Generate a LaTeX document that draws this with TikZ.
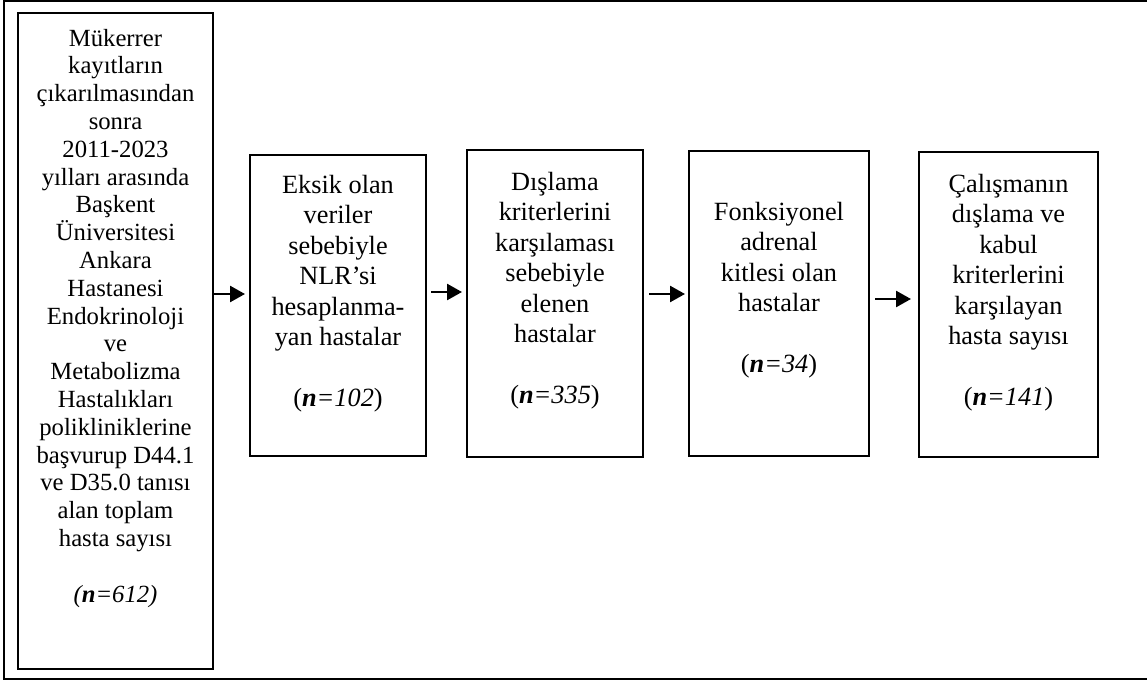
\documentclass[tikz,border=0pt]{standalone}
\usepackage{fontspec}
\setmainfont{Liberation Serif}
\usetikzlibrary{arrows.meta}
\begin{document}
\begin{tikzpicture}[x=1pt,y=-1pt,
  box/.style={draw, line width=1.8pt, inner sep=0pt, outer sep=0pt, anchor=north west},
  txtA/.style={anchor=north, inner sep=0pt, align=center, font=\fontsize{24.7}{27.8}\selectfont},
  txtB/.style={anchor=north, inner sep=0pt, align=center, font=\fontsize{26.3}{30.5}\selectfont},
  arr/.style={line width=2.6pt, -{Triangle[length=15pt,width=16pt]}}]
\useasboundingbox (0,0) rectangle (1147,682);
\draw[line width=2pt] (4,1.5) rectangle (1160,678.5);
\node[box, minimum width=195pt, minimum height=656pt] (b1) at (18,13) {};
\node[box, minimum width=176pt, minimum height=301pt] (b2) at (250,155) {};
\node[box, minimum width=176pt, minimum height=307pt] (b3) at (467,150) {};
\node[box, minimum width=180pt, minimum height=305pt] (b4) at (689,151) {};
\node[box, minimum width=179pt, minimum height=305pt] (b5) at (919,152) {};
\node[txtA] (t1) at (115.5,26.5) {\strut Mükerrer\\kayıtların\\çıkarılmasından\\sonra\\2011-2023\\yılları arasında\\Başkent\\Üniversitesi\\Ankara\\Hastanesi\\Endokrinoloji\\ve\\Metabolizma\\Hastalıkları\\polikliniklerine\\başvurup D44.1\\ve D35.0 tanısı\\alan toplam\\hasta sayısı\\[\baselineskip]\textit{(\textbf{n}=612)}};
\node[txtB] (t2) at (338,171.5) {\strut Eksik olan\\veriler\\sebebiyle\\NLR’si\\hesaplanma-\\yan hastalar\\[\baselineskip](\textbf{\textit{n}}\textit{=102})};
\node[txtB] (t3) at (555,168.5) {\strut Dışlama\\kriterlerini\\karşılaması\\sebebiyle\\elenen\\hastalar\\[\baselineskip](\textbf{\textit{n}}\textit{=335})};
\node[txtB] (t4) at (779,198.5) {\strut Fonksiyonel\\adrenal\\kitlesi olan\\hastalar\\[\baselineskip](\textbf{\textit{n}}\textit{=34})};
\node[txtB] (t5) at (1008.5,170.5) {\strut Çalışmanın\\dışlama ve\\kabul\\kriterlerini\\karşılayan\\hasta sayısı\\[\baselineskip](\textbf{\textit{n}}\textit{=141})};
\draw[arr] (b1.east |- 0,294) -- ([xshift=-5pt]b2.west |- 0,294);
\draw[arr] ([xshift=5pt]b2.east |- 0,292) -- ([xshift=-5pt]b3.west |- 0,292);
\draw[arr] ([xshift=6pt]b3.east |- 0,294) -- ([xshift=-4pt]b4.west |- 0,294);
\draw[arr] ([xshift=6pt]b4.east |- 0,299) -- ([xshift=-8pt]b5.west |- 0,299);
\end{tikzpicture}
\end{document}
